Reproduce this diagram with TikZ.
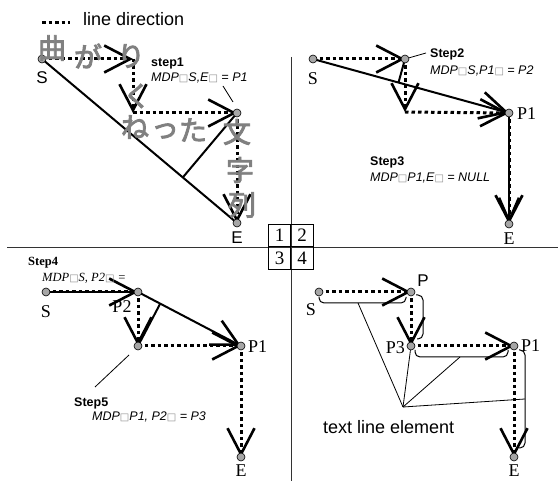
\documentclass[tikz,border=0pt]{standalone}
\usepackage{fontspec}
\setmainfont{Liberation Serif}
\setsansfont{Liberation Sans}
\newfontfamily\jpfont{Noto Sans CJK JP}[FakeBold=3]
\newfontfamily\boxfont{DejaVu Sans}
\usetikzlibrary{arrows.meta,calc,backgrounds}
\newcommand{\tofu}{{\upshape\boxfont\color{black!45}\fontsize{10}{10}\selectfont □}}

\begin{document}
\begin{tikzpicture}[x=1pt,y=-1pt,
  pt/.style={circle,draw=black,line width=0.6pt,fill=black!35,inner sep=0pt,minimum size=8pt},
  dotln/.style={line width=3pt,dash pattern=on 3.5pt off 3pt},
  solidln/.style={line width=2pt},
  thinln/.style={line width=0.8pt},
  brk/.style={line width=1pt,rounded corners=5pt},
  jp/.style={text=black!50,font=\jpfont\fontsize{28}{28}\selectfont,inner sep=0pt},
  lbl/.style={font=\fontsize{18}{18}\selectfont,inner sep=0pt},
  slbl/.style={font=\sffamily\fontsize{17}{17}\selectfont,inner sep=0pt},
  steptxt/.style={font=\sffamily\bfseries\fontsize{12.5}{12.5}\selectfont,anchor=base west,inner sep=0pt},
  mdptxt/.style={font=\sffamily\itshape\fontsize{12.5}{12.5}\selectfont,anchor=base west,inner sep=0pt},
  cell/.style={draw,line width=0.8pt,minimum size=22.5pt,inner sep=0pt,font=\fontsize{19}{19}\selectfont},
  >={Straight Barb[length=26pt,width=27pt,line width=2.6pt]}]
  \useasboundingbox (0,0) rectangle (558,481);

  % quarter 1
  \node[pt] (aS) at (42,59) {};
  \coordinate (aA) at (133,59);
  \coordinate (aB) at (133,113);
  \node[pt] (aP1) at (237,113) {};
  \node[pt] (aE) at (237,223) {};
  \node[slbl] (aSl) at (42,78) {S};
  \node[slbl] (aEl) at (237,238) {E};
  \node[steptxt] (st1) at (151,67) {step1};
  \node[mdptxt] (md1) at (151,82) {MDP\tofu S,E\tofu\ = P1};
  \coordinate (st1t) at (223,86);
  \coordinate (st1h) at (233,102);

  % quarter 2
  \node[pt] (bS) at (313,59) {};
  \node[pt] (bP2) at (405,59) {};
  \coordinate (bC) at (405,112);
  \node[pt] (bP1) at (509,113) {};
  \node[pt] (bE) at (509,224) {};
  \node[lbl] (bSl) at (313,79) {S};
  \node[lbl,anchor=west] (bP1l) at (517,114) {P1};
  \node[lbl] (bEl) at (509,239) {E};
  \coordinate (st2t) at (426,53);
  \node[steptxt] (st2) at (430,58) {Step2};
  \node[mdptxt] (md2) at (430,75) {MDP\tofu S,P1\tofu\ = P2};
  \node[steptxt] (st3) at (370,166) {Step3};
  \node[mdptxt] (md3) at (370,182) {MDP\tofu P1,E\tofu\ = NULL};

  % quarter 3
  \node[pt] (cS) at (46,292) {};
  \node[pt] (cP2) at (138,292) {};
  \node[pt] (cP3) at (138,346) {};
  \node[pt] (cP1) at (241,346) {};
  \node[pt] (cE) at (241,457) {};
  \node[lbl] (cSl) at (46,312) {S};
  \node[lbl] (cP2l) at (122,307) {P2};
  \node[lbl,anchor=west] (cP1l) at (248,347) {P1};
  \node[lbl] (cEl) at (241,471) {E};
  \node[font=\bfseries\fontsize{12.5}{12.5}\selectfont,anchor=base west,inner sep=0pt] (st4) at (28,266) {Step4};
  \node[font=\itshape\fontsize{12.5}{12.5}\selectfont,anchor=base west,inner sep=0pt] (md4) at (42,282) {MDP\tofu S, P2\tofu\ =};
  \node[steptxt] (st5) at (74,407) {Step5};
  \node[mdptxt] (md5) at (92,421) {MDP\tofu P1, P2\tofu\ = P3};
  \coordinate (st5t) at (95,387);
  \coordinate (st5h) at (129,355);

  % quarter 4
  \node[pt] (dS) at (319,292) {};
  \node[pt] (dP) at (411,292) {};
  \node[pt] (dP3) at (411,346) {};
  \node[pt] (dP1) at (514,346) {};
  \node[pt] (dE) at (514,457) {};
  \node[lbl] (dSl) at (311,310) {S};
  \node[slbl] (dPl) at (423,281) {P};
  \node[lbl,anchor=east] (dP3l) at (405,348) {P3};
  \node[lbl,anchor=west] (dP1l) at (521,346) {P1};
  \node[lbl] (dEl) at (514,471) {E};
  \node[font=\sffamily\fontsize{18}{18}\selectfont,anchor=west,inner sep=0pt] (tle) at (323,427) {text line element};
  \coordinate (hub) at (403,407);
  \coordinate (h1) at (358,303);
  \coordinate (h3) at (460,357);
  \coordinate (h4) at (525,399);

  % legend and grid
  \coordinate (lg1) at (42,23);
  \coordinate (lg2) at (70,23);
  \node[font=\sffamily\fontsize{18}{18}\selectfont,anchor=base west,inner sep=0pt] (lgt) at (83,26) {line direction};
  \node[cell] (n1) at (279.5,235.5) {1};
  \node[cell] (n2) at (302,235.5) {2};
  \node[cell] (n3) at (279.5,258) {3};
  \node[cell] (n4) at (302,258) {4};
  \coordinate (hl1) at (7,247);
  \coordinate (hl2) at (558,247);
  \coordinate (vl1) at (291,57);
  \coordinate (vl2) at (291,481);

  \begin{scope}[on background layer]
    \draw[thinln,black!80] (hl1) -- (hl2);
    \draw[thinln,black!80] (vl1) -- (vl2);
    \draw[dotln] (lg1) -- (lg2);
    % 1
    \draw[solidln] (aS.center) -- (aE.center);
    \draw[solidln] (aP1.center) -- ($(aS.center)!(aP1.center)!(aE.center)$);
    \draw[dotln,->] (aS.center) -- (aA);
    \draw[dotln,->] (aA) -- (aB);
    \draw[dotln,->] (aB) -- (aP1.center);
    \draw[dotln,->] (aP1.center) -- (aE.center);
    \draw[thinln] (st1t) -- (st1h);
    % 2
    \draw[solidln,->] (bS.center) -- (bP1.center);
    \draw[solidln] (bP2.center) -- ($(bS.center)!(bP2.center)!(bP1.center)$);
    \draw[dotln,->] (bS.center) -- (bP2.center);
    \draw[dotln,->] (bP2.center) -- (bC);
    \draw[dotln,->] (bC) -- (bP1.center);
    \draw[solidln,->] (bP1.center) -- (bE.center);
    \draw[dotln,-{Straight Barb[length=23pt,width=20pt,line width=2.6pt]}] (bP1.center) -- (bE.center);
    \draw[thinln] (bP2) -- (st2t);
    % 3
    \draw[solidln] (cS.center) -- (cP2.center);
    \draw[dotln,->] (cS.center) -- (cP2.center);
    \draw[solidln,->] (cP2.center) -- (cP1.center);
    \draw[solidln] (cP3.center) -- ($(cP2.center)!(cP3.center)!(cP1.center)$);
    \draw[dotln,->] (cP2.center) -- (cP3.center);
    \draw[dotln,->] (cP3.center) -- (cP1.center);
    \draw[dotln,->] (cP1.center) -- (cE.center);
    \draw[thinln] (st5t) -- (st5h);
    % 4
    \draw[dotln,->] (dS.center) -- (dP.center);
    \draw[dotln,->] (dP.center) -- (dP3.center);
    \draw[dotln,->] (dP3.center) -- (dP1.center);
    \draw[dotln,->] (dP1.center) -- (dE.center);
    \draw[brk] ($(dS)+(0,5)$) |- ($(dP)+(-5,11)$) -- ($(dP)+(-5,5)$);
    \draw[brk] ($(dP)+(5,3)$) -| ($(dP3)+(12,-7)$) -- ($(dP3)+(6,-7)$);
    \draw[brk] ($(dP3)+(4,4)$) |- ($(dP1)+(-6,11)$) -- ($(dP1)+(-6,4)$);
    \draw[brk] ($(dP1)+(5,4)$) -| ($(dE)+(11,-9)$) -- ($(dE)+(5,-9)$);
    \draw[thinln] (hub) -- (h1);
    \draw[thinln] (hub) -- (dP3);
    \draw[thinln] (hub) -- (h3);
    \draw[thinln] (hub) -- (h4);
  \end{scope}

  % grey handwriting
  \node[jp] (j1) at (52,48) {曲};
  \node[jp] (j2) at (88,56) {が};
  \node[jp] (j3) at (131,56) {り};
  \node[jp] (j4) at (137,96) {く};
  \node[jp] (j5) at (135,127) {ね};
  \node[jp] (j6) at (165,131) {っ};
  \node[jp] (j7) at (193,130) {た};
  \node[jp] (j8) at (237,132) {文};
  \node[jp] (j9) at (240,170) {字};
  \node[jp] (j10) at (242,205) {列};
\end{tikzpicture}
\end{document}
